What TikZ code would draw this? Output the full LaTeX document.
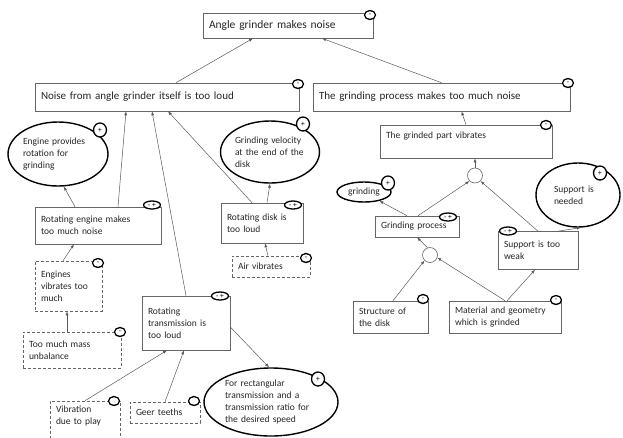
\documentclass[tikz,border=0pt]{standalone}
\usepackage{fontspec}
\setmainfont{Carlito}
\usetikzlibrary{shapes.geometric,arrows.meta}

\begin{document}
\begin{tikzpicture}[x=1pt,y=-1pt,
	box/.style={draw=black!60, line width=0.6pt, fill=white, align=left, inner xsep=6pt, inner ysep=0pt, text=black!85, font=\fontsize{9.5}{12}\selectfont},
	hbox/.style={box, font=\fontsize{11}{13}\selectfont},
	dbox/.style={box, densely dashed},
	oval/.style={ellipse, draw=black, line width=1.4pt, inner sep=0pt, align=left, text=black!85, font=\fontsize{9.5}{12}\selectfont},
	sign/.style={ellipse, draw=black, line width=1.3pt, fill=white, minimum width=11pt, minimum height=9pt, inner sep=0pt, font=\fontsize{7.5}{7.5}\selectfont},
	wsign/.style={sign, minimum width=17pt, minimum height=8pt},
	psign/.style={sign, minimum width=13pt, minimum height=14pt},
	andnode/.style={circle, draw=black!60, line width=0.6pt, fill=white, minimum size=15pt, inner sep=0pt},
	arr/.style={-{Latex[length=4pt,width=3pt]}, draw=black!65, line width=0.5pt}]
	\useasboundingbox (0,0) rectangle (623,437);

	\node[hbox, minimum width=170pt, minimum height=25pt, text width=158pt, font=\fontsize{11.5}{13}\selectfont] (top) at (288,25.5) {Angle grinder makes noise};
	\node[hbox, minimum width=264pt, minimum height=28pt, text width=252pt] (noiseL) at (167,97) {Noise from angle grinder itself is too loud};
	\node[hbox, minimum width=257pt, minimum height=28pt, text width=245pt] (noiseR) at (441.5,97) {The grinding process makes too much noise};

	\node[box, minimum width=172pt, minimum height=33pt, text width=160pt] (vibr) at (466,141.5) {The grinded part vibrates\\\mbox{}};
	\node[andnode] (and1) at (475,175.5) {};
	\node[oval, minimum width=54pt, minimum height=20pt] (grindEll) at (364,192) {grinding};
	\node[box, minimum width=84pt, minimum height=21pt, text width=72pt] (grindproc) at (417,226.5) {Grinding process};
	\node[oval, minimum width=84pt, minimum height=64pt, text width=48pt] (suppEll) at (578,195) {Support is\\needed};
	\node[box, minimum width=80pt, minimum height=38pt, text width=68pt] (weak) at (538,250.5) {Support is too\\weak};
	\node[andnode] (and2) at (430,255) {};
	\node[box, minimum width=75pt, minimum height=32pt, text width=63pt] (struct) at (390.5,317) {Structure of\\the disk};
	\node[box, minimum width=112pt, minimum height=32pt, text width=100pt] (material) at (505,317) {Material and geometry\\which is grinded};

	\node[oval, minimum width=100pt, minimum height=64pt, text width=70pt] (engEll) at (58,154) {Engine provides\\rotation for\\grinding};
	\node[oval, minimum width=94pt, minimum height=62pt, text width=70pt] (velEll) at (270,152) {Grinding velocity\\at the end of the\\disk};
	\node[box, minimum width=126pt, minimum height=37pt, text width=114pt] (engbox) at (98,225.5) {Rotating engine makes\\too much noise};
	\node[box, minimum width=82pt, minimum height=40pt, text width=70pt] (disk) at (262,223) {Rotating disk is\\too loud};
	\node[dbox, minimum width=78pt, minimum height=21pt, text width=66pt] (air) at (271,266.5) {Air vibrates};
	\node[dbox, minimum width=67pt, minimum height=50pt, text width=55pt] (ev) at (68.5,286) {Engines\\vibrates too\\much};
	\node[box, minimum width=88pt, minimum height=54pt, text width=76pt] (transm) at (186,323) {Rotating\\transmission is\\too loud};
	\node[dbox, minimum width=98pt, minimum height=36pt, text width=86pt] (mass) at (72,350) {Too much mass\\unbalance};
	\node[dbox, minimum width=70pt, minimum height=40pt, text width=58pt] (vibplay) at (85,421) {Vibration\\due to play\\\mbox{}};
	\node[dbox, minimum width=70pt, minimum height=21pt, text width=58pt] (geer) at (165,412.5) {Geer teeths};
	\node[oval, minimum width=134pt, minimum height=68pt, text width=92pt] (rectEll) at (271,402) {For rectangular\\transmission and a\\transmission ratio for\\the desired speed};

	\draw[arr] ([xshift=9pt]noiseL.north) -- ([xshift=-35pt]top.south);
	\draw[arr] (noiseR.north) -- ([xshift=34pt]top.south);
	\draw[arr] (vibr.north) -- ([xshift=20pt]noiseR.south);
	\draw[arr] (and1.north) -- ([xshift=9pt]vibr.south);
	\draw[arr] ([xshift=1pt]grindproc.north) -- (and1.225);
	\draw[arr] (weak.north) -- (and1.-45);
	\draw[arr] ([xshift=-10pt]grindproc.north) -- (grindEll.-30);
	\draw[arr] ([xshift=20pt]weak.north) -- (suppEll.-85);
	\draw[arr] (and2.110) -- (grindproc.south);
	\draw[arr] ([xshift=2.5pt]struct.north) -- (and2.225);
	\draw[arr] (material.north) -- (and2.-20);
	\draw[arr] ([xshift=2pt]material.north) -- ([xshift=-3pt]weak.south);

	\draw[arr] ([xshift=-23pt]engbox.north) -- (engEll.-80);
	\draw[arr] ([xshift=20pt]engbox.north) -- ([xshift=-41pt]noiseL.south);
	\draw[arr] (transm.north) -- ([xshift=-15pt]noiseL.south);
	\draw[arr] ([xshift=-10pt]disk.north) -- ([xshift=1pt]noiseL.south);
	\draw[arr] ([xshift=5pt]disk.north) -- (velEll.south);
	\draw[arr] ([xshift=-3pt]air.north) -- ([xshift=3pt]disk.south);
	\draw[arr] ([xshift=-5.5pt]ev.north) -- ([xshift=-24pt]engbox.south);
	\draw[arr] ([xshift=-5pt]mass.north) -- ([xshift=-1.5pt]ev.south);
	\draw[arr] (vibplay.north) -- ([xshift=-19pt]transm.south);
	\draw[arr] (geer.north) -- ([xshift=-2pt]transm.south);
	\draw[arr] ([yshift=-4pt]transm.east) -- ([xshift=-2pt]rectEll.north);

	\node[sign] (sTop) at (370,15) {-};
	\node[sign] (sNoiseL) at (298,84) {-};
	\node[sign] (sNoiseR) at (568,83) {-};
	\node[sign] (sVibr) at (546,125) {-};
	\node[psign] (sGrindEll) at (388,183) {+};
	\node[wsign] (sGrindproc) at (448,217) {- +};
	\node[wsign] (sWeak) at (508,231) {- +};
	\node[psign] (sSuppEll) at (600,173) {+};
	\node[sign] (sStruct) at (423,299) {-};
	\node[sign] (sMaterial) at (556,300) {-};
	\node[psign] (sEngEll) at (100,130) {+};
	\node[psign] (sVelEll) at (303,124) {+};
	\node[wsign] (sEngbox) at (152,205) {- +};
	\node[wsign] (sDisk) at (293,205) {- +};
	\node[sign] (sAir) at (306,258) {-};
	\node[sign] (sEv) at (98,263) {-};
	\node[wsign] (sTransm) at (220,296) {- +};
	\node[sign] (sMass) at (120,332) {-};
	\node[sign] (sVibplay) at (114,401) {};
	\node[sign] (sGeer) at (194,401) {};
	\node[psign] (sRectEll) at (318,379) {+};
\end{tikzpicture}
\end{document}
